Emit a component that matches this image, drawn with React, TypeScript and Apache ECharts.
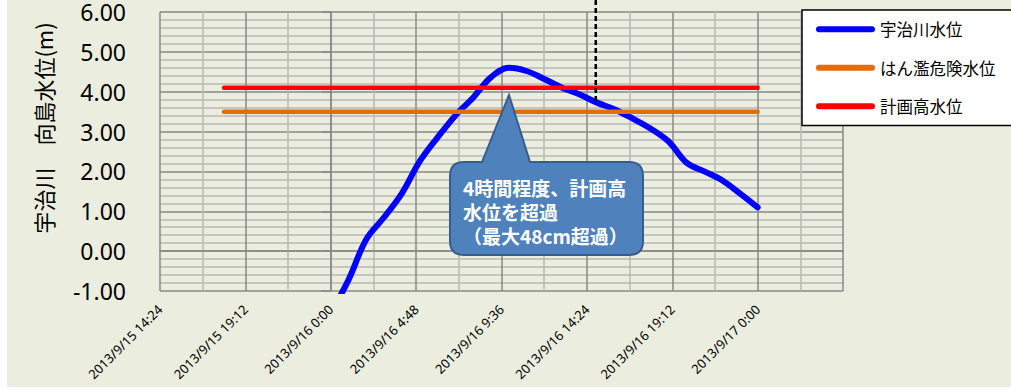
import React, { useEffect, useRef } from "react";
import * as echarts from "echarts";

// hours relative to 2013/9/16 0:00
const hours = [0, 1, 2, 3, 4, 5, 6, 7, 8, 9, 10, 11, 12, 13, 14, 15, 16, 17, 18, 19, 20, 21, 22, 23, 24];
const ujiLevel = [-1.55, -0.72, 0.3, 0.85, 1.45, 2.25, 2.85, 3.4, 3.85, 4.36, 4.6, 4.52, 4.32, 4.1, 3.93, 3.72, 3.55, 3.32, 3.07, 2.75, 2.22, 2.0, 1.78, 1.45, 1.1];
const thresholdHours = [-6, 24];
const dangerLevel = [3.5, 3.5];
const planLevel = [4.1, 4.1];
const nowHour = 14.9;
const nowLineLevels = [6.3, 3.7];
const xTickLabels = [
  "2013/9/15 14:24",
  "2013/9/15 19:12",
  "2013/9/16 0:00",
  "2013/9/16 4:48",
  "2013/9/16 9:36",
  "2013/9/16 14:24",
  "2013/9/16 19:12",
  "2013/9/17 0:00",
];
const xMin = -9.6;
const xMax = 28.8;
const xInterval = 4.8;
const yMin = -1;
const yMax = 6;
const seriesNames = ["宇治川水位", "はん濫危険水位", "計画高水位"];
const calloutLines = ["4時間程度、計画高", "水位を超過", "（最大48cm超過）"];
const yTitle = "宇治川　向島水位(m)";

const calloutPath =
  "M464 162 L482 162 L509 95 L530 162 L629 162 Q643 162 643 176 L643 241 Q643 255 629 255 L464 255 Q450 255 450 241 L450 176 Q450 162 464 162 Z";
const legendPill = "path://M3,0 L56,0 A3,3,0,0,1,56,6 L3,6 A3,3,0,0,1,3,0 Z";

let registered = false;

export default function App() {
  const ref = useRef<HTMLDivElement>(null);
  useEffect(() => {
    if (!ref.current) return;
    if (!registered) {
      echarts.graphic.registerShape("callout", echarts.graphic.extendPath(calloutPath, {}));
      registered = true;
    }
    const chart = echarts.init(ref.current, undefined, { renderer: "svg" });
    const major = "#888888";
    const minor = "#b8b8b8";
    chart.setOption({
      animation: false,
      grid: { left: 160, right: 168, top: 12, bottom: 99 },
      xAxis: {
        type: "value",
        min: xMin,
        max: xMax,
        interval: xInterval,
        axisLine: { show: true, lineStyle: { color: major, width: 1.5 } },
        axisTick: { show: false },
        splitLine: { show: true, lineStyle: { color: major, width: 1.5 } },
        minorTick: { show: false, splitNumber: 2 },
        minorSplitLine: { show: true, lineStyle: { color: minor, width: 1.5 } },
        axisLabel: {
          rotate: 45,
          margin: 16,
          fontSize: 13,
          fontFamily: "Noto Sans",
          color: "#000",
          formatter: (v: number) => {
            const i = Math.round((v - xMin) / xInterval);
            return xTickLabels[i] ?? "";
          },
        },
      },
      yAxis: {
        type: "value",
        min: yMin,
        max: yMax,
        interval: 1,
        axisLine: { show: true, lineStyle: { color: major, width: 1.5 } },
        axisTick: { show: true, inside: false, length: 9, lineStyle: { color: major, width: 1.5 } },
        splitLine: { show: true, lineStyle: { color: major, width: 1.5 } },
        minorTick: { show: false, splitNumber: 5 },
        minorSplitLine: { show: true, lineStyle: { color: minor, width: 1.5 } },
        axisLabel: {
          margin: 34,
          fontSize: 23,
          lineHeight: 20,
          fontFamily: "Noto Sans",
          color: "#000",
          formatter: (v: number) => v.toFixed(2),
        },
      },
      legend: {
        data: seriesNames,
        orient: "vertical",
        left: 802,
        top: 10,
        padding: [11, 40, 11, 14],
        itemGap: 22,
        itemWidth: 59,
        itemHeight: 6,
        icon: legendPill,
        backgroundColor: "#ffffff",
        borderColor: "#000000",
        borderWidth: 1.5,
        selectedMode: false,
        textStyle: { fontSize: 16.5, lineHeight: 16, fontFamily: "Noto Sans CJK JP", color: "#000" },
      },
      series: [
        {
          name: seriesNames[0],
          type: "line",
          data: hours.map((h, i) => [h, ujiLevel[i]]),
          smooth: 0.35,
          symbol: "none",
          lineStyle: { color: "#0000ff", width: 6, cap: "round", join: "round" },
          itemStyle: { color: "#0000ff" },
        },
        {
          name: seriesNames[1],
          type: "line",
          data: thresholdHours.map((h, i) => [h, dangerLevel[i]]),
          symbol: "none",
          lineStyle: { color: "#e46c0a", width: 4.5, cap: "round" },
          itemStyle: { color: "#e46c0a" },
        },
        {
          name: seriesNames[2],
          type: "line",
          data: thresholdHours.map((h, i) => [h, planLevel[i]]),
          symbol: "none",
          lineStyle: { color: "#ff0000", width: 4.5, cap: "round" },
          itemStyle: { color: "#ff0000" },
        },
        {
          name: "now",
          type: "line",
          clip: false,
          data: nowLineLevels.map((v) => [nowHour, v]),
          symbol: "none",
          lineStyle: { color: "#000000", width: 2.5, type: [5, 3] },
          z: 3,
        },
      ],
      graphic: [
        {
          type: "rect",
          z: -10,
          silent: true,
          shape: { x: 7, y: 0, width: 1004, height: 387 },
          style: { fill: "#ebeedf" },
        },
        {
          type: "text",
          x: 43,
          y: 128,
          rotation: Math.PI / 2,
          style: {
            text: yTitle,
            fontSize: 22,
            fontFamily: "Noto Sans CJK JP",
            fill: "#000",
            align: "center",
            verticalAlign: "middle",
          },
        },
        {
          type: "callout",
          z: 100,
          x: 0,
          y: 0,
          style: { fill: "#4f81bd", stroke: "#385d8a", lineWidth: 2 },
        },
        ...calloutLines.map((line, i) => ({
          type: "text",
          z: 101,
          x: 463,
          y: 187 + i * 24,
          style: {
            text: line,
            fontSize: 19,
            lineHeight: 21,
            fontWeight: "bold",
            fontFamily: "Noto Sans CJK JP",
            fill: "#ffffff",
            align: "left",
            verticalAlign: "middle",
          },
        })),
      ],
    });
    return () => chart.dispose();
  }, []);
  return (
    <div
      ref={ref}
      style={{ position: "absolute", left: 0, top: 0, width: 1011, height: 390 }}
    />
  );
}
